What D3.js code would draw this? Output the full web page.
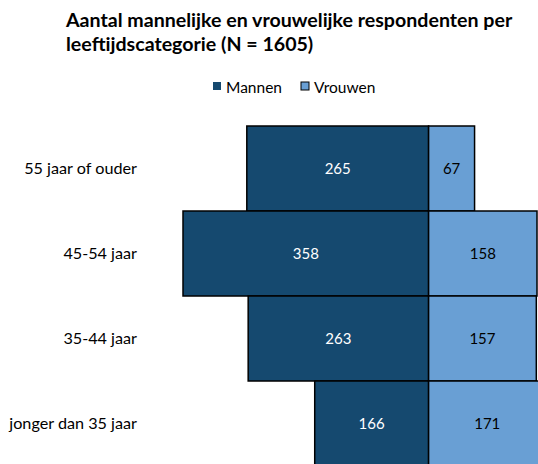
<!DOCTYPE html>
<html><head><meta charset="utf-8">
<script src="https://cdn.jsdelivr.net/npm/d3@7"></script>
<style>body{margin:0;background:#fff}svg{display:block}text{font-family:Lato,"Open Sans",sans-serif}</style>
</head><body>
<svg id="c" width="538" height="464"></svg>
<script>
const categories = ["55 jaar of ouder", "45-54 jaar", "35-44 jaar", "jonger dan 35 jaar"];
const mannen = [265, 358, 263, 166];
const vrouwen = [67, 158, 157, 171];
const seriesNames = ["Mannen", "Vrouwen"];
const colors = ["#15496f", "#699fd4"];

const svg = d3.select("#c");
const x = d3.scaleLinear().domain([-358, 158]).range([183, 537]);
const y = d3.scaleBand().domain(categories).range([126, 466]).paddingInner(0).paddingOuter(0);

// title
const title = svg.append("text").attr("x", 66).attr("y", 27).attr("font-weight", "bold").attr("font-size", 19.6).attr("fill", "#000");
title.append("tspan").attr("x", 66).text("Aantal mannelijke en vrouwelijke respondenten per");
title.append("tspan").attr("x", 66).attr("dy", 23.5).text("leeftijdscategorie (N = 1605)");

// legend
const legX = [213, 301];
seriesNames.forEach((s, i) => {
  svg.append("rect").attr("x", legX[i]).attr("y", 82).attr("width", 8).attr("height", 8)
    .attr("fill", colors[i]).attr("stroke", i === 1 ? "#000" : "none").attr("stroke-width", 1);
  svg.append("text").attr("x", legX[i] + 13).attr("y", 93).attr("font-size", 15.5).attr("fill", "#000").text(s);
});

const g = svg.append("g");
// Mannen bars
g.selectAll(".m").data(categories).join("rect")
  .attr("x", (d, i) => x(-mannen[i])).attr("y", d => y(d))
  .attr("width", (d, i) => x(0) - x(-mannen[i])).attr("height", y.bandwidth())
  .attr("fill", colors[0]).attr("stroke", "#000").attr("stroke-width", 1.5);
// Vrouwen bars
g.selectAll(".v").data(categories).join("rect")
  .attr("x", x(0)).attr("y", d => y(d))
  .attr("width", (d, i) => x(vrouwen[i]) - x(0)).attr("height", y.bandwidth())
  .attr("fill", colors[1]).attr("stroke", "#000").attr("stroke-width", 1.5);

// value labels
g.selectAll(".ml").data(categories).join("text")
  .attr("x", (d, i) => (x(-mannen[i]) + x(0)) / 2).attr("y", d => y(d) + y.bandwidth() / 2 + 5)
  .attr("text-anchor", "middle").attr("font-size", 15).attr("fill", "#fff")
  .text((d, i) => mannen[i]);
g.selectAll(".vl").data(categories).join("text")
  .attr("x", (d, i) => (x(vrouwen[i]) + x(0)) / 2).attr("y", d => y(d) + y.bandwidth() / 2 + 5)
  .attr("text-anchor", "middle").attr("font-size", 15).attr("fill", "#000")
  .text((d, i) => vrouwen[i]);

// category labels
g.selectAll(".cl").data(categories).join("text")
  .attr("x", 137).attr("y", d => y(d) + y.bandwidth() / 2 + 5.5)
  .attr("text-anchor", "end").attr("font-size", 16.2).attr("fill", "#000")
  .text(d => d);
</script>
</body></html>
